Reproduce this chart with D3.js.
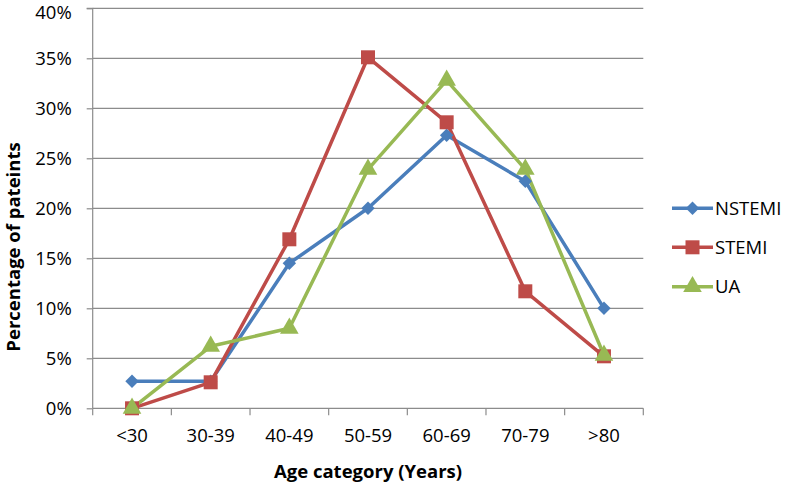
<!DOCTYPE html>
<html><head><meta charset="utf-8">
<script src="https://cdn.jsdelivr.net/npm/d3@7"></script>
<style>body{margin:0;background:#fff}svg{display:block}text{font-family:"Open Sans",sans-serif}</style>
</head><body><svg id="c" width="787" height="484"></svg>
<script>
const categories = ["<30","30-39","40-49","50-59","60-69","70-79",">80"];
const nstemi = [2.7,2.7,14.5,20.0,27.3,22.7,10.0];
const stemi  = [0.0,2.6,16.9,35.1,28.6,11.7,5.2];
const ua     = [0.0,6.2,8.0,23.9,32.8,23.9,5.3];
const yTicks = [0,5,10,15,20,25,30,35,40];
const seriesNames = ["NSTEMI","STEMI","UA"];
const colors = ["#4A7EBB","#BE4B48","#98B954"];
const series = [nstemi, stemi, ua];
const FONT = "'Open Sans',sans-serif";
const FS = 18.5;

const svg = d3.select("#c");
const L=92.7, R=643.3, T=8.3, B=408.3;
const x = d3.scaleBand().domain(categories).range([L,R]);
const y = d3.scaleLinear().domain([0,40]).range([B,T]);

function marker(sel,k){
  if(k===0) sel.attr("d",d3.symbol().type(d3.symbolSquare).size(90)()).attr("transform",function(){return d3.select(this).attr("transform")+" rotate(45)";});
  else if(k===1) sel.attr("d",d3.symbol().type(d3.symbolSquare).size(196)());
  else sel.attr("d",d3.symbol().type(d3.symbolTriangle).size(150)());
}

// gridlines
svg.append("g").selectAll("line").data(yTicks.filter(d=>d>0)).join("line")
  .attr("x1",L).attr("x2",R).attr("y1",d=>y(d)).attr("y2",d=>y(d))
  .attr("stroke","#8c8c8c").attr("stroke-width",1.2);

// y axis
const ya = svg.append("g").attr("transform",`translate(${L},0)`)
  .call(d3.axisLeft(y).tickValues(yTicks).tickFormat(d=>d+"%").tickSize(6).tickPadding(15));
ya.select(".domain").attr("stroke","#8c8c8c").attr("stroke-width",1.2).attr("d",`M-6,${T}H0V${B}`);
ya.selectAll(".tick line").attr("stroke","#8c8c8c").attr("stroke-width",1.2);
ya.selectAll("text").attr("font-size",FS).attr("fill","#000").style("font-family",FONT);
ya.selectAll(".tick text").filter(d=>d===40).attr("dy","0.55em");

// x axis
const xa = svg.append("g").attr("transform",`translate(0,${B})`)
  .call(d3.axisBottom(x).tickSize(0).tickPadding(21));
xa.select(".domain").attr("stroke","#8c8c8c").attr("stroke-width",1.2).attr("d",`M${L},0H${R}`);
xa.selectAll(".tick text").attr("font-size",FS).attr("fill","#000").style("font-family",FONT);
const bounds = categories.map(c=>x(c)).concat([R]);
svg.append("g").selectAll("line").data(bounds).join("line")
  .attr("x1",d=>d).attr("x2",d=>d).attr("y1",B).attr("y2",B+7)
  .attr("stroke","#8c8c8c").attr("stroke-width",1.2);

// lines
const line = d3.line().x((d,i)=>x(categories[i])+x.bandwidth()/2).y(d=>y(d));
series.forEach((s,k)=>{
  svg.append("path").datum(s).attr("d",line).attr("fill","none")
    .attr("stroke",colors[k]).attr("stroke-width",3.5).attr("stroke-linejoin","round");
});
series.forEach((s,k)=>{
  svg.append("g").selectAll("path").data(s).join("path")
    .attr("transform",(d,i)=>`translate(${x(categories[i])+x.bandwidth()/2},${y(d)})`)
    .attr("fill",colors[k]).call(marker,k);
});

// legend
const ly = [208.3,247.3,286.7];
seriesNames.forEach((n,k)=>{
  const g = svg.append("g");
  g.append("line").attr("x1",672).attr("x2",713).attr("y1",ly[k]).attr("y2",ly[k])
    .attr("stroke",colors[k]).attr("stroke-width",3.5);
  g.append("path").attr("transform",`translate(692.5,${ly[k]})`).attr("fill",colors[k]).call(marker,k);
  g.append("text").attr("x",715).attr("y",ly[k]).attr("dy","0.36em").attr("font-size",FS).text(n);
});

// titles
svg.append("text").attr("x",368).attr("y",478).attr("text-anchor","middle")
  .attr("font-size",FS).attr("font-weight","bold").text("Age category (Years)");
svg.append("text").attr("transform",`translate(19.5,247) rotate(-90)`).attr("text-anchor","middle")
  .attr("font-size",FS).attr("font-weight","bold").text("Percentage of pateints");
</script></body></html>
